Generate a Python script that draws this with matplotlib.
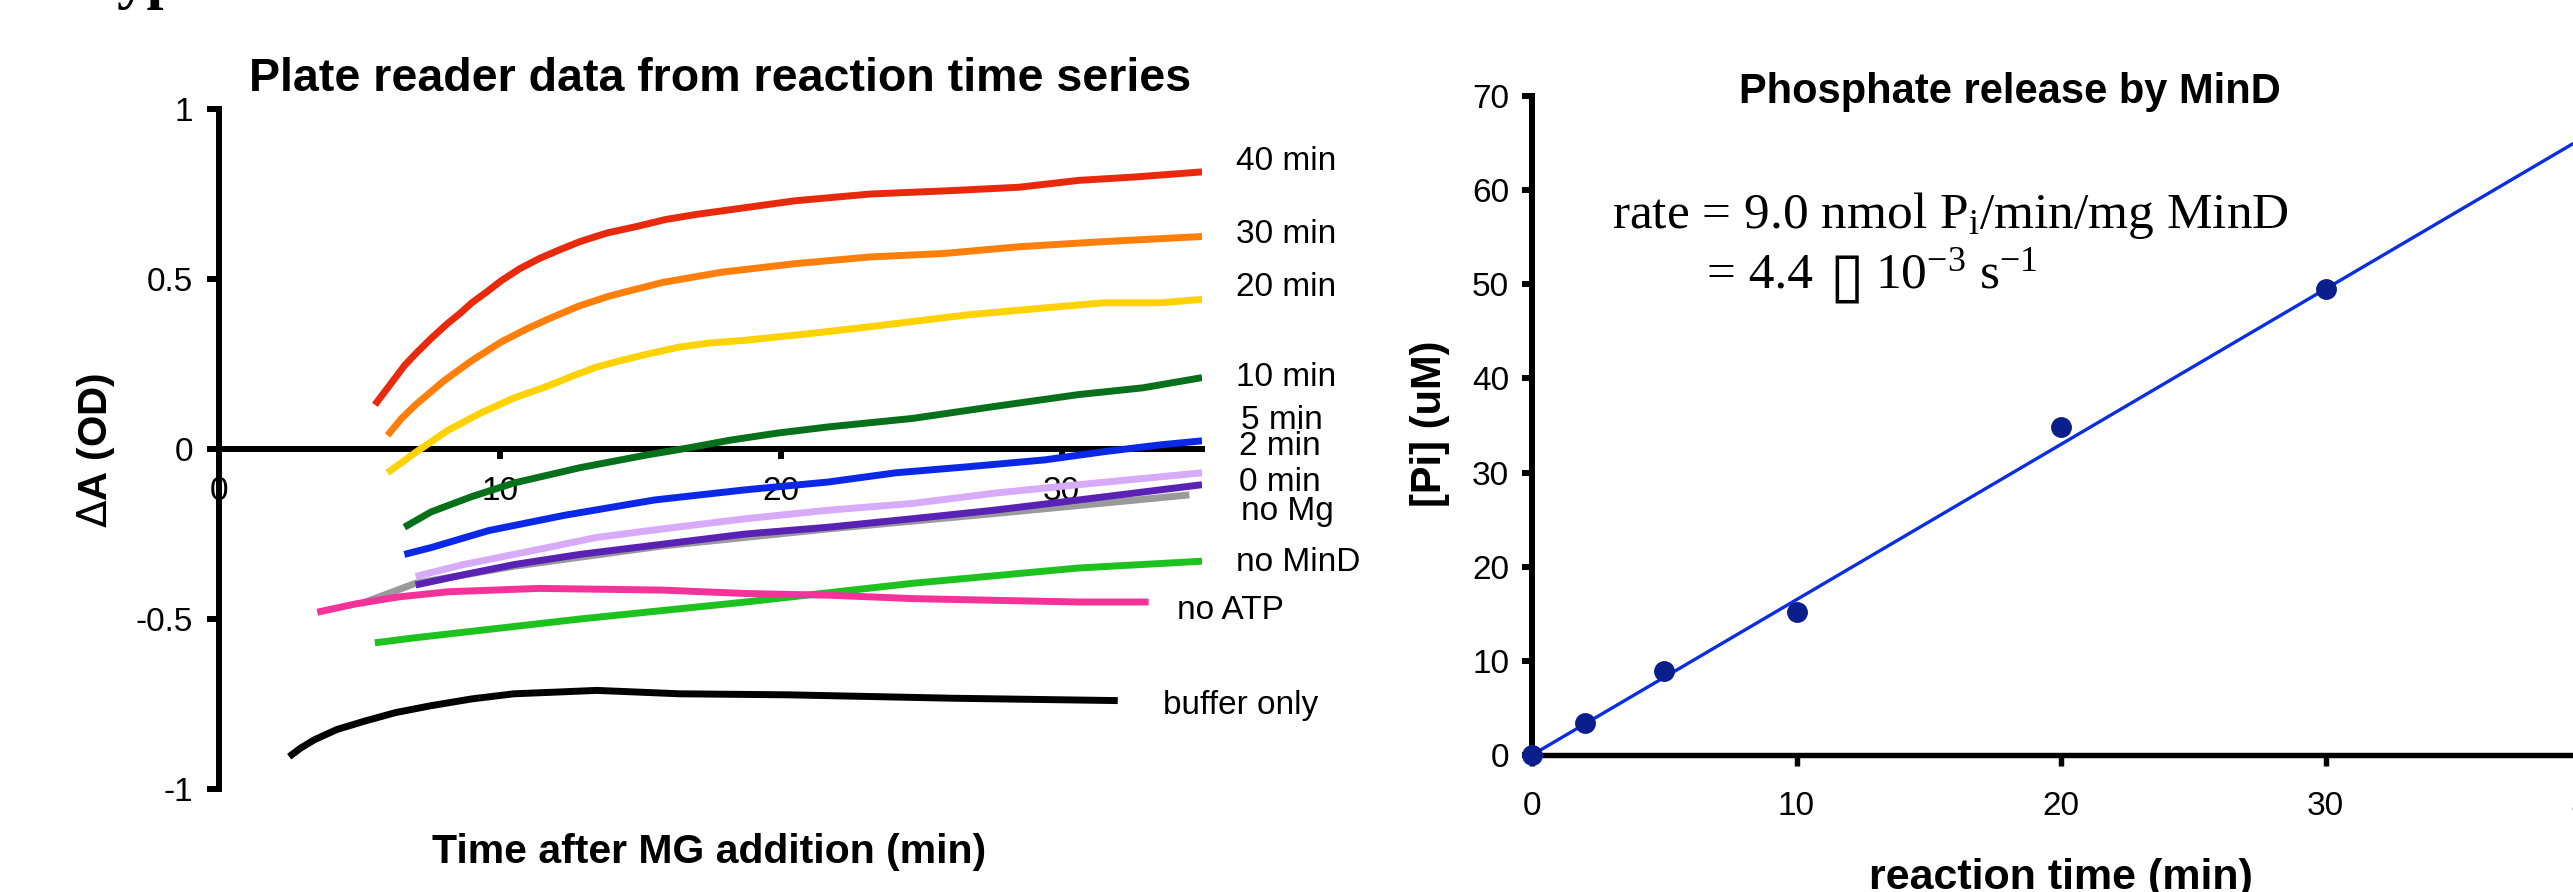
import matplotlib
matplotlib.use("Agg")
import matplotlib.pyplot as plt
import numpy as np

# ---------------- data ----------------
# Left panel: plate reader traces (time in min, dA in OD)
t_40 = [5.55, 6.1, 6.6, 7.0, 7.55, 8.15, 8.6, 9.0, 9.5, 10.05, 10.7, 11.4, 12.1, 12.85, 13.8, 14.9, 15.9, 17.0, 18.75, 20.5, 23.2, 26.1, 28.5, 30.6, 32.6, 35.0]
a_40 = [0.13, 0.19, 0.245, 0.28, 0.325, 0.37, 0.40, 0.43, 0.46, 0.495, 0.53, 0.56, 0.585, 0.61, 0.635, 0.655, 0.675, 0.69, 0.71, 0.73, 0.75, 0.76, 0.77, 0.79, 0.80, 0.815]

t_30 = [6.0, 6.5, 7.0, 7.5, 8.0, 9.0, 10.05, 11.0, 11.8, 12.8, 13.9, 15.8, 17.9, 20.5, 23.2, 25.8, 28.5, 31.5, 35.0]
a_30 = [0.04, 0.09, 0.13, 0.165, 0.20, 0.26, 0.315, 0.355, 0.385, 0.42, 0.45, 0.49, 0.52, 0.545, 0.565, 0.575, 0.595, 0.61, 0.625]

t_20 = [6.0, 7.0, 8.15, 9.3, 10.5, 11.7, 12.6, 13.4, 14.3, 15.3, 16.4, 17.5, 18.75, 21.1, 23.2, 24.7, 26.7, 29.4, 31.5, 33.5, 35.0]
a_20 = [-0.07, -0.01, 0.055, 0.105, 0.15, 0.185, 0.215, 0.24, 0.26, 0.28, 0.30, 0.312, 0.32, 0.34, 0.36, 0.375, 0.395, 0.415, 0.43, 0.43, 0.44]

t_10 = [6.6, 7.55, 9.0, 10.5, 12.85, 15.2, 16.7, 18.2, 19.9, 21.7, 24.7, 27.6, 30.6, 32.9, 35.0]
a_10 = [-0.23, -0.185, -0.14, -0.10, -0.055, -0.018, 0.003, 0.026, 0.047, 0.065, 0.09, 0.125, 0.16, 0.18, 0.21]

t_5 = [6.6, 7.55, 9.6, 12.3, 15.5, 18.75, 21.7, 24.1, 26.7, 29.4, 31.5, 33.5, 35.0]
a_5 = [-0.31, -0.29, -0.24, -0.195, -0.15, -0.12, -0.097, -0.07, -0.052, -0.032, -0.008, 0.012, 0.024]

t_2 = [7.0, 8.7, 11.1, 13.45, 15.8, 18.75, 21.7, 24.7, 27.6, 30.6, 35.0]
a_2 = [-0.375, -0.34, -0.30, -0.26, -0.235, -0.205, -0.18, -0.16, -0.13, -0.105, -0.07]

t_0 = [7.0, 8.7, 10.5, 12.85, 15.8, 18.75, 21.7, 24.7, 27.6, 30.6, 35.0]
a_0 = [-0.40, -0.37, -0.34, -0.31, -0.28, -0.25, -0.23, -0.205, -0.18, -0.15, -0.105]

t_nomg = [5.05, 7.0, 10.5, 15.8, 21.7, 27.6, 34.55]
a_nomg = [-0.455, -0.395, -0.345, -0.285, -0.235, -0.19, -0.135]

t_nomind = [5.55, 7.0, 12.85, 18.75, 24.7, 30.6, 35.0]
a_nomind = [-0.57, -0.555, -0.50, -0.45, -0.395, -0.35, -0.33]

t_noatp = [3.5, 4.9, 6.4, 8.15, 11.4, 15.8, 18.75, 21.7, 24.7, 27.6, 30.6, 33.1]
a_noatp = [-0.48, -0.455, -0.435, -0.42, -0.41, -0.415, -0.425, -0.43, -0.44, -0.445, -0.45, -0.45]

t_buf = [2.5, 2.9, 3.4, 4.2, 5.2, 6.3, 7.55, 9.0, 10.5, 12.0, 13.45, 16.4, 20.25, 23.2, 26.1, 32.0]
a_buf = [-0.905, -0.88, -0.855, -0.825, -0.80, -0.775, -0.755, -0.735, -0.72, -0.715, -0.71, -0.72, -0.723, -0.728, -0.733, -0.74]

trace_labels = ["40 min", "30 min", "20 min", "10 min", "5 min", "2 min",
                "0 min", "no Mg", "no MinD", "no ATP", "buffer only"]

left_xticks = [0, 10, 20, 30]
left_yticks = [-1, -0.5, 0, 0.5, 1]
left_yticklabels = ["-1", "-0.5", "0", "0.5", "1"]

# Right panel: phosphate release
rxn_time = [0, 2, 5, 10, 20, 30]
pi_conc = [0.0, 3.4, 8.9, 15.2, 34.8, 49.5]
fit_slope = 1.65
fit_intercept = 0.0

right_xticks = [0, 10, 20, 30, 40]
right_yticks = [0, 10, 20, 30, 40, 50, 60, 70]

# ---------------- styling ----------------
plt.rcParams["font.family"] = ["Liberation Sans", "DejaVu Sans"]
plt.rcParams["mathtext.fontset"] = "custom"
plt.rcParams["mathtext.rm"] = "Liberation Serif"
plt.rcParams["mathtext.it"] = "Liberation Serif:italic"
plt.rcParams["mathtext.sf"] = "DejaVu Sans"

W, H, DPI = 2573, 892, 100
fig = plt.figure(figsize=(W / DPI, H / DPI), dpi=DPI)


def fx(px):
    return px / W


def fy(py):
    return 1 - py / H


TICK_FS = 24
SIDE_FS = 24

# ---------------- left panel ----------------
ax1 = fig.add_axes([fx(219), fy(789), (1202 - 219) / W, (789 - 109) / H])
ax1.set_xlim(0, 35)
ax1.set_ylim(-1, 1)

series = [
    (t_nomg, a_nomg, "#9a9a9a"),
    (t_40, a_40, "#e8290b"),
    (t_30, a_30, "#ff7f0a"),
    (t_20, a_20, "#ffd200"),
    (t_10, a_10, "#07701a"),
    (t_5, a_5, "#0a28e6"),
    (t_2, a_2, "#d8aafa"),
    (t_0, a_0, "#5a22b4"),
    (t_nomind, a_nomind, "#1ec21e"),
    (t_noatp, a_noatp, "#f5329a"),
    (t_buf, a_buf, "#000000"),
]
for t, a, c in series:
    ax1.plot(t, a, color=c, lw=5.0, solid_capstyle="butt",
             solid_joinstyle="round", zorder=3)

for s in ("top", "right"):
    ax1.spines[s].set_visible(False)
ax1.spines["bottom"].set_position(("data", 0))
ax1.spines["bottom"].set_linewidth(4.3)
ax1.spines["left"].set_linewidth(4.3)
ax1.spines["bottom"].set_zorder(2)
ax1.spines["left"].set_zorder(2)

ax1.set_xticks(left_xticks)
ax1.set_xticklabels([str(v) for v in left_xticks])
ax1.set_yticks(left_yticks)
ax1.set_yticklabels(left_yticklabels)
ax1.tick_params(axis="x", direction="out", length=7, width=4.3,
                labelsize=TICK_FS, pad=12.5)
ax1.tick_params(axis="y", direction="out", length=8.6, width=4.3,
                labelsize=TICK_FS, pad=10)

label_pos = [(36.2, 0.847), (36.2, 0.63), (36.2, 0.476), (36.2, 0.21),
             (36.4, 0.085), (36.3, 0.008), (36.3, -0.098), (36.4, -0.185),
             (36.2, -0.335), (34.1, -0.475), (33.6, -0.755)]
for lab, (lx, ly) in zip(trace_labels, label_pos):
    ax1.text(lx, ly, lab, fontsize=SIDE_FS, ha="left", va="center", clip_on=False)

fig.text(fx(249), fy(91), "Plate reader data from reaction time series",
         fontsize=33.5, fontweight="bold", ha="left", va="baseline")
fig.text(fx(709), fy(852), "Time after MG addition (min)",
         fontsize=29.5, fontweight="bold", ha="center", va="center")
fig.text(fx(96), fy(450), "$\\mathsf{\\Delta}$A (OD)", fontsize=29,
         fontweight="bold", ha="center", va="center", rotation=90)

# partial heading cut off at the top of the image
fig.text(fx(116), fy(-3), "yp", fontsize=44, fontweight="bold",
         family="Liberation Serif", ha="left", va="baseline")

# ---------------- right panel ----------------
x_max = 45
ax2 = fig.add_axes([fx(1532), fy(755), x_max * 26.45 / W, (755 - 96) / H])
ax2.set_xlim(0, x_max)
ax2.set_ylim(0, 70)

fit_x = np.array([0, x_max])
ax2.plot(fit_x, fit_intercept + fit_slope * fit_x, color="#0a2ee0", lw=2.4,
         zorder=3, clip_on=False)
ax2.plot(rxn_time, pi_conc, "o", color="#0a1e8c", ms=14, mec="#0a1e8c",
         zorder=4, clip_on=False)

for s in ("top", "right"):
    ax2.spines[s].set_visible(False)
ax2.spines["bottom"].set_linewidth(3.9)
ax2.spines["left"].set_linewidth(4.3)
ax2.set_xticks(right_xticks)
ax2.set_xticklabels([str(v) for v in right_xticks])
ax2.set_yticks(right_yticks)
ax2.set_yticklabels([str(v) for v in right_yticks])
ax2.tick_params(axis="x", direction="out", length=7.7, width=3.9,
                labelsize=TICK_FS, pad=18.5)
ax2.tick_params(axis="y", direction="out", length=7.5, width=4.3,
                labelsize=TICK_FS, pad=9)

fig.text(fx(2010), fy(103), "Phosphate release by MinD", fontsize=30,
         fontweight="bold", ha="center", va="baseline")
fig.text(fx(2061), fy(858), "reaction time (min)", fontsize=31,
         fontweight="bold", ha="center", va="top")
fig.text(fx(1430), fy(424), "[Pi] (uM)", fontsize=30, fontweight="bold",
         ha="center", va="center", rotation=90)

serif = ["Liberation Serif", "DejaVu Sans"]
RATE_FS = 37
fig.text(fx(1612), fy(228), "rate = 9.0 nmol P$_\\mathrm{i}$/min/mg MinD",
         fontsize=RATE_FS, family=serif, ha="left", va="baseline")
fig.text(fx(1707), fy(288), "= 4.4", fontsize=RATE_FS, family=serif,
         ha="left", va="baseline")
fig.text(fx(1829), fy(297), "\u25af", fontsize=45, family="DejaVu Sans",
         ha="left", va="baseline")
fig.text(fx(1875), fy(288), "10$^{\u2212\\mathrm{3}}$ s$^{\u2212\\mathrm{1}}$",
         fontsize=RATE_FS, family=serif, ha="left", va="baseline")

fig.savefig("out.png", dpi=DPI)
